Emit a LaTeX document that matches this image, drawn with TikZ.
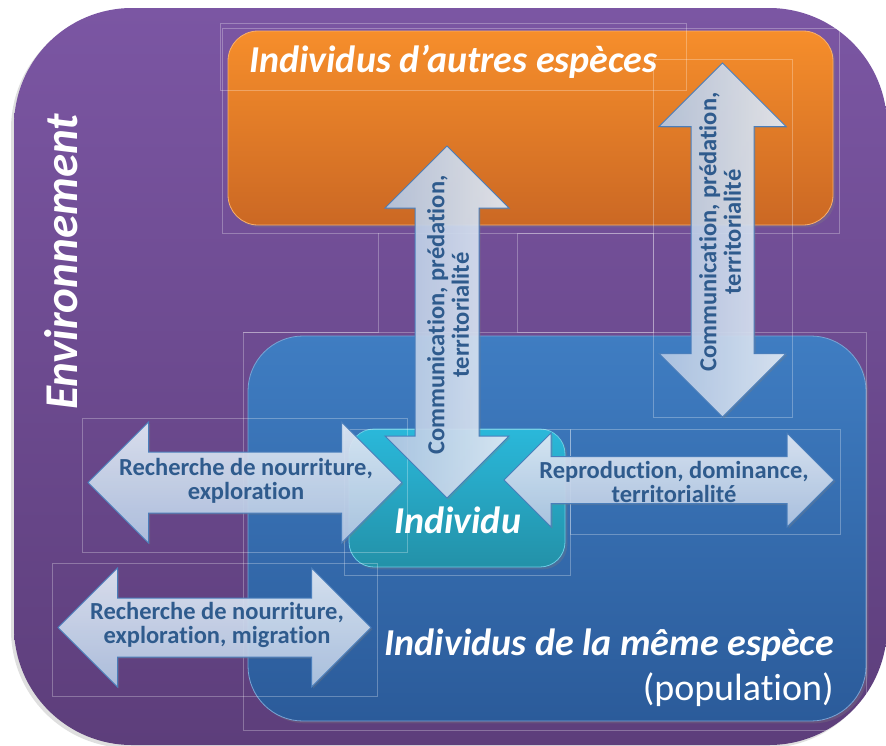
\documentclass[tikz,border=0pt]{standalone}
\usepackage{fontspec}
\setmainfont[Ligatures=NoCommon]{Carlito}
\usetikzlibrary{shadows}

\definecolor{envtop}{HTML}{7B56A3}
\definecolor{envbot}{HTML}{5D3E7B}
\definecolor{othtop}{HTML}{F68E2B}
\definecolor{othbot}{HTML}{CB6824}
\definecolor{samtop}{HTML}{3F7DC2}
\definecolor{sambot}{HTML}{2B5B9A}
\definecolor{indtop}{HTML}{2AB8DA}
\definecolor{indbot}{HTML}{2391A8}
\definecolor{arrlight}{HTML}{E4ECF7}
\definecolor{arrdark}{HTML}{B3C8E5}
\definecolor{arredge}{HTML}{4A7EBB}
\definecolor{arrtext}{HTML}{2F5B8D}

\tikzset{
  panel/.style={rounded corners=#1, inner sep=0pt},
  guide/.style={draw=white, draw opacity=0.28, line width=0.6pt},
  arrowbox/.style={draw=arredge, line width=1pt, fill opacity=0.9,
    drop shadow={shadow xshift=1.5pt, shadow yshift=-1.5pt, opacity=0.3}},
  hshade/.style={top color=arrlight, bottom color=arrdark},
  vshade/.style={left color=arrdark, right color=arrlight},
  arrowtext/.style={text=arrtext, font=\fontsize{24.5}{24.5}\selectfont\bfseries, align=center, inner sep=0pt},
  title/.style={text=white, font=\fontsize{38}{40}\selectfont\bfseries\itshape, inner sep=0pt}
}

% horizontal / vertical double block arrows: [style]{centre}{half length}{half shaft}{half head}
\newcommand{\harrow}[5][]{\draw[arrowbox,hshade,#1,shift={(#2)}] (-#3,0) -- ({#5-#3},-#5) -- ({#5-#3},-#4) -- ({#3-#5},-#4) -- ({#3-#5},-#5) -- (#3,0) -- ({#3-#5},#5) -- ({#3-#5},#4) -- ({#5-#3},#4) -- ({#5-#3},#5) -- cycle;}
\newcommand{\varrow}[5][]{\draw[arrowbox,vshade,#1,shift={(#2)}] (0,-#3) -- (-#5,{#5-#3}) -- (-#4,{#5-#3}) -- (-#4,{#3-#5}) -- (-#5,{#3-#5}) -- (0,#3) -- (#5,{#3-#5}) -- (#4,{#3-#5}) -- (#4,{#5-#3}) -- (#5,{#5-#3}) -- cycle;}

\begin{document}
\begin{tikzpicture}[x=1pt,y=-1pt]
  \useasboundingbox (0,0) rectangle (886,745);

  % boxes
  \node[panel=118, top color=envtop, bottom color=envbot, minimum width=873, minimum height=737,
    drop shadow={shadow xshift=-3pt, shadow yshift=-3pt, opacity=0.25}] (env) at (450.5,376.5) {};
  \node[panel=30, top color=othtop, bottom color=othbot, draw=othtop!70!white, line width=0.8pt,
    minimum width=605, minimum height=194, drop shadow={opacity=0.3}] (others) at (530.5,128) {};
  \node[panel=55, top color=samtop, bottom color=sambot, draw=samtop!70!white, line width=0.8pt,
    minimum width=618, minimum height=385, drop shadow={opacity=0.3}] (same) at (557,528.5) {};
  \node[panel=25, top color=indtop, bottom color=indbot, draw=indtop!70!white, line width=0.8pt,
    minimum width=216, minimum height=138, drop shadow={opacity=0.3}] (indiv) at (457,498) {};

  % faint frames
  \foreach \xa/\ya/\xb/\yb in {220/23/686/90, 222/28/839/233, 517/233/653/332, 653/59/792/417,
                     243/332/866/730, 82/418/407/552, 52/563/377/696, 570/429/840/534, 344/429/570/575}
    \draw[guide] (\xa,\ya) rectangle (\xb,\yb);
  \draw[guide] (378,233) -- (378,332) -- (243,332);

  % arrows
  \harrow{245,482.5}{157}{30.5}{60.5}
  \harrow{214.5,627.5}{156.5}{29.5}{59.5}
  \harrow{669,480}{165}{23.5}{47}
  \varrow{447,322}{176}{32}{62}
  \varrow{722.5,240}{177}{31.5}{63.5}

  % texts
  \node[title, anchor=base west] (othtitle) at (249,72) {Individus d’autres espèces};
  \node[title, font=\fontsize{47}{47}\selectfont\bfseries\itshape, rotate=90, anchor=base] (envtitle) at (77,262) {Environnement};
  \node[title, anchor=base east] (samtitle) at (834,655) {Individus de la même espèce};
  \node[title, font=\fontsize{38}{40}\selectfont, anchor=base east] (poptitle) at (834,700) {(population)};
  \node[title, anchor=base west] (indtitle) at (394,533) {Individu};

  \node[arrowtext] (food) at (246,481) {Recherche de nourriture,\\exploration};
  \node[arrowtext] (migr) at (217,625) {Recherche de nourriture,\\exploration, migration};
  \node[arrowtext] (repro) at (674,482) {Reproduction, dominance,\\territorialité};
  \node[arrowtext, rotate=90] (comm) at (448,315) {Communication, prédation,\\territorialité};
  \node[arrowtext, rotate=90] (commb) at (720,232) {Communication, prédation,\\territorialité};
\end{tikzpicture}
\end{document}
